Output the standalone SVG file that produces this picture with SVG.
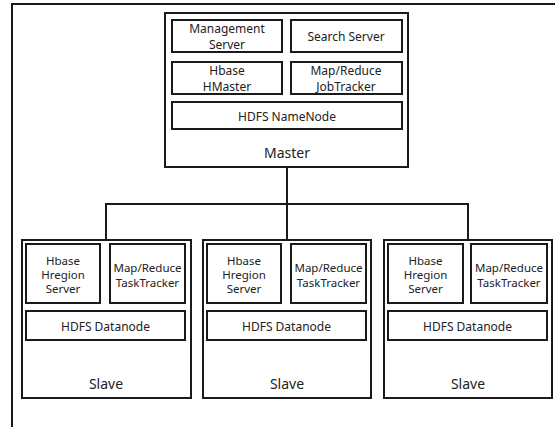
<svg xmlns="http://www.w3.org/2000/svg" width="555" height="427" viewBox="0 0 555 427">
<style>
rect{fill:#fff;stroke:#1a1a1a;stroke-width:2}
.c{fill:none;stroke:#1a1a1a;stroke-width:2}
text{font-family:"Noto Sans","Liberation Sans",sans-serif;font-size:12px;fill:#222;text-anchor:middle;dominant-baseline:central}
.s{font-size:11.5px}
.b{font-size:14px}
</style>
<rect width="555" height="427" style="stroke:none"/>
<path class="c" d="M12,427 V4 H555"/>
<g id="connectors">
<path class="c" d="M287,167 V204 M106,204 H468 M106,203 V240 M287,203 V240 M468,203 V240"/>
</g>
<g id="master">
<rect x="165" y="13" width="243" height="154"/>
<text class="b" x="287" y="152">Master</text>
</g>
<g id="mgmt"><rect x="172" y="20" width="110" height="32"/><text x="227" y="28.5">Management</text><text x="227" y="44">Server</text></g>
<g id="search"><rect x="291" y="20" width="111" height="32"/><text x="346" y="36">Search  Server</text></g>
<g id="hmaster"><rect x="172" y="62" width="110" height="32"/><text x="227" y="70.5">Hbase</text><text x="227" y="86">HMaster</text></g>
<g id="jobtracker"><rect x="291" y="62" width="111" height="32"/><text x="346" y="70.5">Map/Reduce</text><text x="346" y="86">JobTracker</text></g>
<g id="namenode"><rect x="172" y="102" width="230" height="27"/><text x="287" y="116">HDFS NameNode</text></g>
<g id="slave1">
<rect x="22" y="240" width="169" height="158"/><text class="b" x="106" y="383">Slave</text>
<rect x="26" y="244" width="74" height="59"/><text class="s" x="63" y="260">Hbase</text><text class="s" x="63" y="274">Hregion</text><text class="s" x="63" y="288">Server</text>
<rect x="110" y="244" width="75" height="59"/><text class="s" x="147.5" y="267.5">Map/Reduce</text><text class="s" x="147.5" y="282">TaskTracker</text>
<rect x="26" y="311" width="159" height="29"/><text x="105.5" y="326">HDFS Datanode</text>
</g>
<g id="slave2">
<rect x="203" y="240" width="168" height="158"/><text class="b" x="287" y="383">Slave</text>
<rect x="207" y="244" width="74" height="59"/><text class="s" x="244" y="260">Hbase</text><text class="s" x="244" y="274">Hregion</text><text class="s" x="244" y="288">Server</text>
<rect x="291" y="244" width="75" height="59"/><text class="s" x="328.5" y="267.5">Map/Reduce</text><text class="s" x="328.5" y="282">TaskTracker</text>
<rect x="207" y="311" width="159" height="29"/><text x="286.5" y="326">HDFS Datanode</text>
</g>
<g id="slave3">
<rect x="384" y="240" width="168" height="158"/><text class="b" x="468" y="383">Slave</text>
<rect x="388" y="244" width="75" height="59"/><text class="s" x="425.5" y="260">Hbase</text><text class="s" x="425.5" y="274">Hregion</text><text class="s" x="425.5" y="288">Server</text>
<rect x="471" y="244" width="76" height="59"/><text class="s" x="509" y="267.5">Map/Reduce</text><text class="s" x="509" y="282">TaskTracker</text>
<rect x="388" y="311" width="159" height="29"/><text x="467.5" y="326">HDFS Datanode</text>
</g>
</svg>
